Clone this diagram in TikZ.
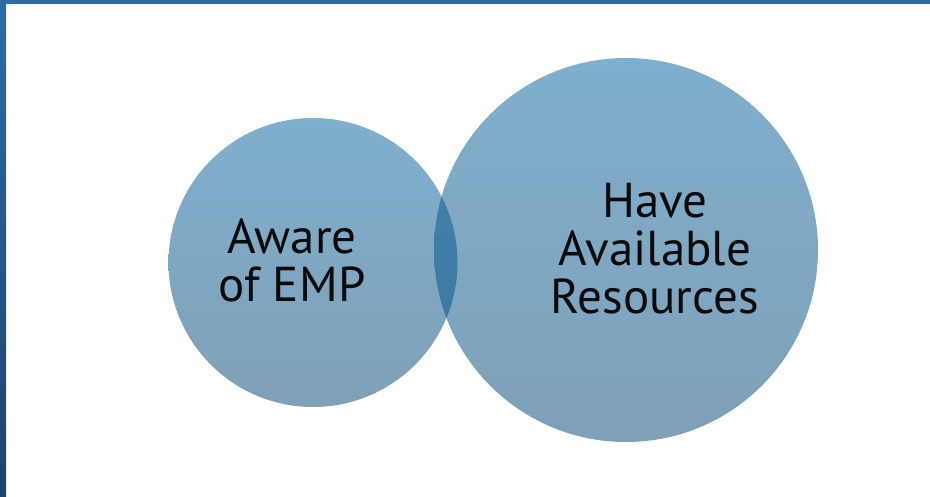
\documentclass[tikz,border=0pt]{standalone}
\usepackage{fontspec}
\setmainfont{PT Sans}
\definecolor{barblue}{RGB}{42,109,165}
\definecolor{bardark}{RGB}{31,66,110}
\definecolor{ctop}{RGB}{127,175,206}
\definecolor{cbot}{RGB}{127,160,183}
\definecolor{otop}{RGB}{70,135,176}
\definecolor{obot}{RGB}{58,116,154}
\definecolor{txt}{RGB}{10,10,10}
\tikzset{
  bubble/.style={circle, inner sep=0pt, top color=ctop, bottom color=cbot},
  label/.style={align=center, text=txt, font=\fontsize{49}{48}\selectfont, inner sep=0pt}
}
\begin{document}
\begin{tikzpicture}[x=1pt,y=-1pt]
\useasboundingbox (0,0) rectangle (930,497);
\fill[white] (0,0) rectangle (930,497);
% frame
\fill[barblue] (0,0) rectangle (930,4);
\shade[top color=barblue, bottom color=bardark] (0,0) rectangle (6,497);
% circles
\node[bubble, minimum size=289pt] (aware) at (313,262.5) {};
\node[bubble, minimum size=384pt] (res) at (626,250) {};
\begin{scope}
  \clip (313,262.5) circle (144.5);
  \shade[top color=otop, bottom color=obot] (626,250) circle (192);
\end{scope}
% texts
\node[label] (awaretxt) at (292,260) {Aware\\of EMP};
\node[label] (restxt) at (655,249) {Have\\Available\\Resources};
\end{tikzpicture}
\end{document}
